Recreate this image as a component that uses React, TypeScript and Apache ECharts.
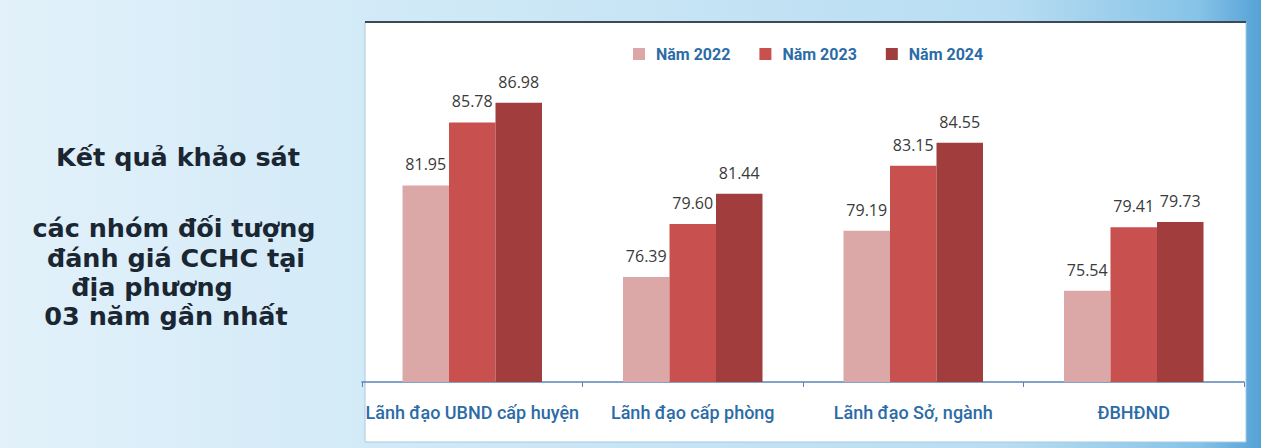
import React, { useEffect, useRef } from "react";
import * as echarts from "echarts";

const categories = ["Lãnh đạo UBND cấp huyện", "Lãnh đạo cấp phòng", "Lãnh đạo Sở, ngành", "ĐBHĐND"];
const seriesNames = ["Năm 2022", "Năm 2023", "Năm 2024"];
const values2022 = [81.95, 76.39, 79.19, 75.54];
const values2023 = [85.78, 79.6, 83.15, 79.41];
const values2024 = [86.98, 81.44, 84.55, 79.73];
const seriesColors = ["#dba8a7", "#c8504f", "#a23d3d"];
const titleLines = [
  { text: "Kết quả khảo sát", x: 178, y: 157 },
  { text: "các nhóm đối tượng", x: 174, y: 228 },
  { text: "đánh giá CCHC tại", x: 176, y: 258 },
  { text: "địa phương", x: 152, y: 287 },
  { text: "03 năm gần nhất", x: 166, y: 316 },
];

export default function App() {
  const ref = useRef<HTMLDivElement>(null);
  useEffect(() => {
    document.body.style.margin = "0";
    const chart = echarts.init(ref.current!, null, { renderer: "svg" });
    const dataSets = [values2022, values2023, values2024];
    chart.setOption({
      animation: false,
      backgroundColor: "transparent",
      graphic: [
        {
          type: "rect",
          z: -10,
          shape: { x: 0, y: 0, width: 1261, height: 448 },
          style: {
            fill: new echarts.graphic.LinearGradient(0, 0, 1, 0, [
              { offset: 0, color: "#e2f1fa" },
              { offset: 0.3, color: "#d2eaf7" },
              { offset: 0.8, color: "#b8ddf2" },
              { offset: 0.95, color: "#86c3e7" },
              { offset: 1, color: "#55a2d7" },
            ]),
          },
        },
        {
          type: "rect",
          z: -9,
          shape: { x: 365, y: 22, width: 881, height: 420 },
          style: { fill: "#ffffff", stroke: "#a9c8df", lineWidth: 1 },
        },
        {
          type: "line",
          z: -8,
          shape: { x1: 365, y1: 22, x2: 1246, y2: 22 },
          style: { stroke: "#3d4a55", lineWidth: 2 },
        },
        ...titleLines.map((l) => ({
          type: "text",
          x: l.x,
          y: l.y,
          style: {
            text: l.text,
            fill: "#1b2633",
            font: "bold 25.5px 'DejaVu Sans', sans-serif",
            textAlign: "center",
            textVerticalAlign: "middle",
          },
        })),
      ],
      legend: {
        top: 41,
        left: 628,
        itemWidth: 12,
        itemHeight: 12,
        itemGap: 29,
        icon: "rect",
        data: seriesNames,
        textStyle: {
          color: "#2c6ca6",
          fontSize: 16,
          fontWeight: "bold",
          fontFamily: "Roboto, sans-serif",
          padding: [0, 0, 0, 6],
        },
      },
      grid: { left: 362, right: 17, top: 53, bottom: 66 },
      xAxis: {
        type: "category",
        data: categories,
        axisLine: { lineStyle: { color: "#5b84b5", width: 1.5 } },
        axisTick: { show: true, length: 5, lineStyle: { color: "#5b84b5" } },
        axisLabel: {
          interval: 0,
          color: "#2c6ca6",
          fontSize: 18,
          fontWeight: 500,
          fontFamily: "Roboto, sans-serif",
          margin: 21,
        },
      },
      yAxis: {
        type: "value",
        min: 70,
        max: 90,
        show: false,
        splitLine: { show: false },
      },
      series: seriesNames.map((name, i) => ({
        name,
        type: "bar",
        data: dataSets[i],
        barWidth: 46.5,
        barGap: "0%",
        itemStyle: { color: seriesColors[i] },
        label: {
          show: true,
          position: "top",
          distance: 13,
          color: "#3a3a3a",
          fontSize: 16,
          fontFamily: "'Open Sans', sans-serif",
          formatter: (p: any) => p.value.toFixed(2),
        },
      })),
    });
    return () => chart.dispose();
  }, []);
  return <div ref={ref} style={{ width: 1261, height: 448 }} />;
}
